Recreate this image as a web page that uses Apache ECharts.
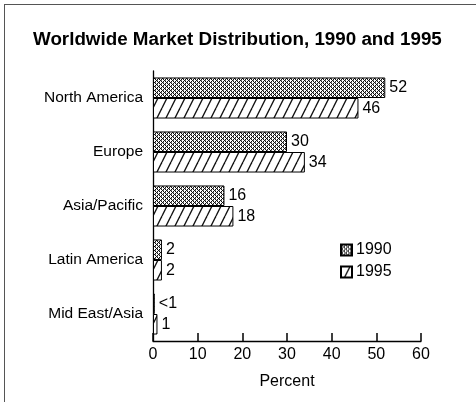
<!DOCTYPE html>
<html>
<head>
<meta charset="utf-8">
<script src="https://cdn.jsdelivr.net/npm/echarts@6/dist/echarts.min.js"></script>
<style>
  html, body { margin: 0; padding: 0; background: #fff; }
  #wrap { position: relative; width: 476px; height: 402px; }
  #chart { position: absolute; left: 0; top: 0; width: 476px; height: 402px; }
  #frame { position: absolute; left: 4px; top: 4px; right: 0; bottom: 0;
           border-top: 1px solid #555; border-left: 1px solid #555; pointer-events: none; }
</style>
</head>
<body>
<div id="wrap">
  <div id="chart"></div>
  <div id="frame"></div>
</div>
<script>
// Regions, shares in percent for each year
const regions = ['North America', 'Europe', 'Asia/Pacific', 'Latin America', 'Mid East/Asia'];
const share1990 = [52, 30, 16, 2, 0.4];
const share1995 = [46, 34, 18, 2, 1];
const labels1990 = ['52', '30', '16', '2', '<1'];
const labels1995 = ['46', '34', '18', '2', '1'];
const xTicks = [0, 10, 20, 30, 40, 50, 60];

const FONT = '"Liberation Sans", Arial, Helvetica, sans-serif';

// Dense cross-hatch fill
function crossPattern() {
  const c = document.createElement('canvas');
  c.width = 4; c.height = 4;
  const g = c.getContext('2d');
  g.fillStyle = '#fff';
  g.fillRect(0, 0, 4, 4);
  g.fillStyle = '#111';
  for (let x = 0; x < 4; x++) {
    for (let y = 0; y < 4; y++) {
      if ((x + y) % 4 === 0 || ((x - y) + 4) % 4 === 0) g.fillRect(x, y, 1, 1);
    }
  }
  g.fillStyle = '#777';
  g.fillRect(1, 0, 1, 1);
  g.fillRect(3, 2, 1, 1);
  return c;
}

// Steep forward-slash hatch fill
function slashPattern() {
  const w = 9, h = 18;
  const c = document.createElement('canvas');
  c.width = w; c.height = h;
  const g = c.getContext('2d');
  g.fillStyle = '#fff';
  g.fillRect(0, 0, w, h);
  g.strokeStyle = '#111';
  g.lineWidth = 1.3;
  for (const dx of [-w, 0, w]) {
    g.beginPath();
    g.moveTo(dx, h);
    g.lineTo(dx + w, 0);
    g.stroke();
  }
  return c;
}

const chart = echarts.init(document.getElementById('chart'), null, { renderer: 'canvas' });

const labelStyle = {
  show: true,
  position: 'right',
  distance: 4,
  color: '#000',
  fontFamily: FONT,
  fontSize: 16
};

chart.setOption({
  animation: false,
  backgroundColor: '#fff',
  title: {
    text: 'Worldwide Market Distribution, 1990 and 1995',
    left: 33,
    top: 30,
    padding: 0,
    textStyle: { fontFamily: FONT, fontSize: 18.8, fontWeight: 'bold', color: '#000' }
  },
  legend: {
    orient: 'vertical',
    left: 340,
    top: 242,
    padding: 0,
    itemWidth: 11,
    itemHeight: 11,
    itemGap: 6,
    icon: 'rect',
    textStyle: { fontFamily: FONT, fontSize: 16, color: '#000', padding: [0, 0, 0, -1] },
    data: ['1990', '1995']
  },
  grid: { left: 153, right: 55, top: 71, bottom: 61 },
  xAxis: {
    type: 'value',
    min: xTicks[0],
    max: xTicks[xTicks.length - 1],
    interval: 10,
    name: 'Percent',
    nameLocation: 'middle',
    nameGap: 33,
    nameTextStyle: { fontFamily: FONT, fontSize: 16, color: '#000' },
    axisLine: { show: true, lineStyle: { color: '#000', width: 1.3 } },
    axisTick: { show: true, inside: true, length: 8, lineStyle: { color: '#000', width: 1.5 } },
    axisLabel: { margin: 6, fontFamily: FONT, fontSize: 16, color: '#000' },
    splitLine: { show: false }
  },
  yAxis: {
    type: 'category',
    inverse: true,
    data: regions,
    axisLine: { show: true, lineStyle: { color: '#000', width: 1.3 } },
    axisTick: { show: false },
    axisLabel: { margin: 10, fontFamily: FONT, fontSize: 15.5, color: '#000' }
  },
  series: [
    {
      name: '1990',
      type: 'bar',
      data: share1990,
      barGap: '0%',
      barCategoryGap: '24%',
      itemStyle: { color: { image: crossPattern(), repeat: 'repeat' }, borderColor: '#000', borderWidth: 1 },
      label: Object.assign({}, labelStyle, { formatter: p => labels1990[p.dataIndex] })
    },
    {
      name: '1995',
      type: 'bar',
      data: share1995,
      barGap: '0%',
      barCategoryGap: '24%',
      itemStyle: { color: { image: slashPattern(), repeat: 'repeat' }, borderColor: '#000', borderWidth: 1 },
      label: Object.assign({}, labelStyle, { formatter: p => labels1995[p.dataIndex] })
    }
  ]
});
</script>
</body>
</html>
